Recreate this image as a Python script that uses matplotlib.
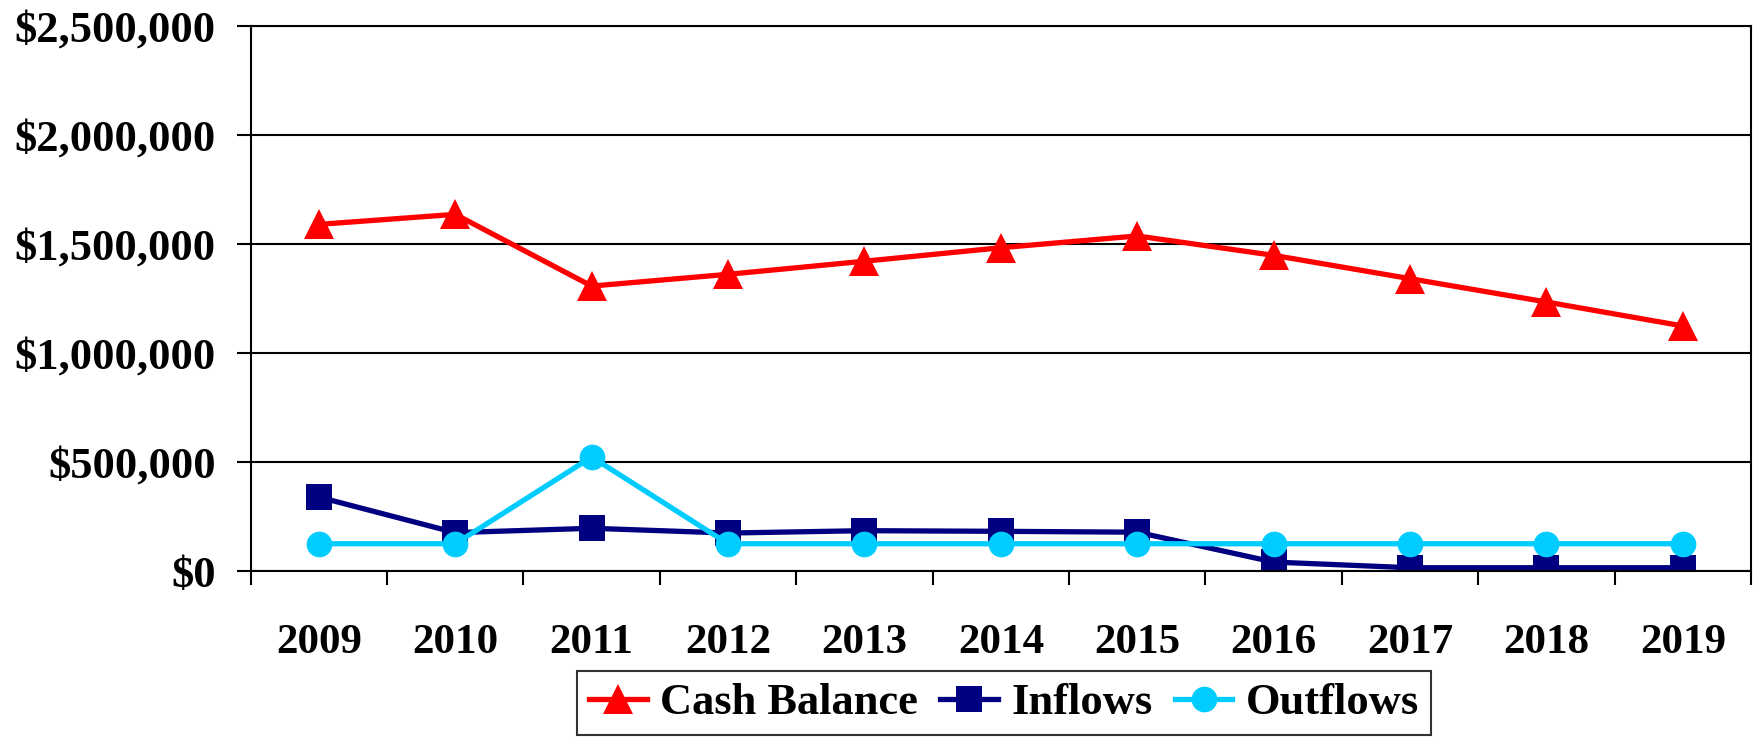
import matplotlib
matplotlib.use('Agg')
import matplotlib.pyplot as plt
from matplotlib.ticker import FuncFormatter, FixedLocator

# data
years = ['2009', '2010', '2011', '2012', '2013', '2014', '2015', '2016', '2017', '2018', '2019']
cash_balance = [1590000, 1636000, 1307000, 1361000, 1421000, 1483000, 1537000, 1448000, 1341000, 1234000, 1124000]
inflows = [339000, 176000, 196000, 174000, 185000, 182000, 178000, 41000, 15000, 15000, 15000]
outflows = [125000, 125000, 523000, 125000, 125000, 125000, 125000, 125000, 125000, 125000, 125000]

plt.rcParams['font.family'] = ['Liberation Serif', 'DejaVu Serif']
plt.rcParams['font.weight'] = 'bold'

fig = plt.figure(figsize=(17.54, 7.39), dpi=100)
ax = fig.add_axes([250.7 / 1754, 1 - 571 / 739, (1751 - 250.7) / 1754, (571 - 26) / 739])

x = list(range(len(years)))
ax.plot(x, cash_balance, color='#FF0000', lw=3.8, marker='^', markersize=21, markeredgewidth=0, label='Cash Balance')
ax.plot(x, inflows, color='#000080', lw=3.8, marker='s', markersize=19, markeredgewidth=0, label='Inflows')
ax.plot(x, outflows, color='#00CCFF', lw=3.8, marker='o', markersize=18.5, markeredgewidth=0, label='Outflows')

ax.set_xlim(-0.5, len(years) - 0.5)
ax.set_ylim(0, 2500000)
ax.set_yticks([0, 500000, 1000000, 1500000, 2000000, 2500000])
ax.yaxis.set_major_formatter(FuncFormatter(lambda v, p: '${:,.0f}'.format(v)))
ax.grid(axis='y', color='black', lw=1.5)
ax.set_axisbelow(True)

# category labels in the middle, tick marks on the boundaries
ax.set_xticks(x)
ax.set_xticklabels(years)
ax.xaxis.set_minor_locator(FixedLocator([i - 0.5 for i in range(len(years) + 1)]))
ax.tick_params(axis='x', which='major', length=0, pad=38, labelsize=31)
ax.tick_params(axis='x', which='minor', length=10, width=1.5, direction='out')
ax.tick_params(axis='y', length=10, width=1.5, direction='out', pad=15, labelsize=32)
for s in ax.spines.values():
    s.set_linewidth(1.5)

leg = fig.legend(loc='upper center', bbox_to_anchor=(1004 / 1754, 1 - 671 / 739), ncol=3,
                 fontsize=32, frameon=True, fancybox=False, edgecolor='black',
                 handlelength=1.3, handletextpad=0.3, columnspacing=0.5,
                 borderpad=0.27, borderaxespad=0)
leg.get_frame().set_linewidth(1.5)

fig.savefig('out.png', dpi=100)
